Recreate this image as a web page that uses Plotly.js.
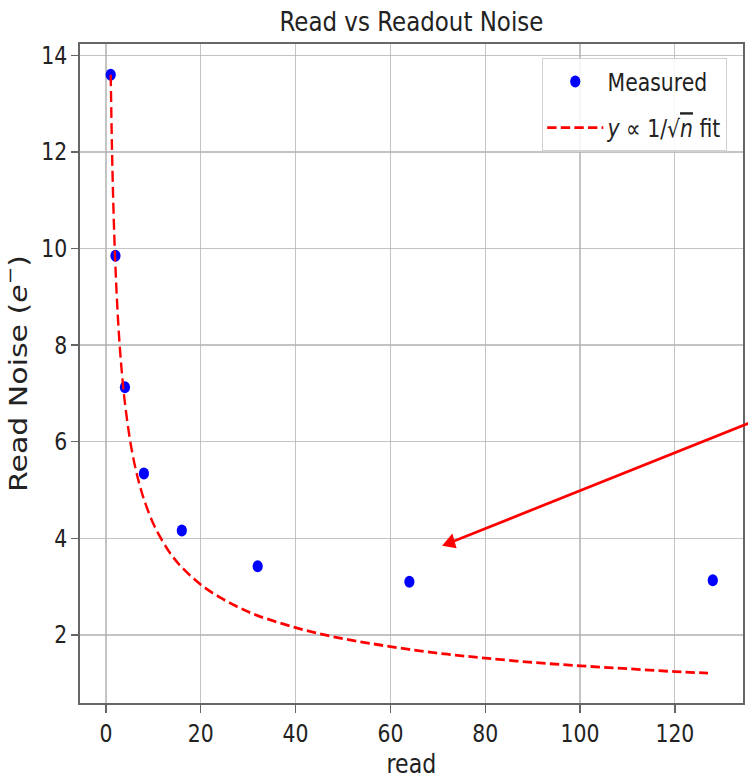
<!DOCTYPE html>
<html>
<head>
<meta charset="utf-8">
<script src="https://cdn.plot.ly/plotly-3.0.1.min.js"></script>
<style>
  html, body { margin: 0; padding: 0; background: #ffffff; }
  #wrap { width: 748px; height: 779px; overflow: hidden; position: relative; }
  #chart { width: 880px; height: 779px; transform: scaleX(0.85); transform-origin: 0 0; }
</style>
</head>
<body>
<div id="wrap"><div id="chart"></div></div>
<script>
// Measured read noise for each number of reads
const readCounts = [1, 2, 4, 8, 16, 32, 64, 128];
const readNoise  = [13.6, 9.85, 7.13, 5.34, 4.16, 3.42, 3.10, 3.13];

// Fit curve, values
const fitReads = [1, 1.25, 1.5, 1.75, 2, 2.5, 3, 3.5, 4, 5, 6, 7, 8, 10, 12, 14, 16, 20, 24, 28, 32, 40, 48, 56, 64, 72, 80, 90, 100, 110, 120, 127];
const fitNoise = [13.6, 12.16, 11.1, 10.28, 9.62, 8.6, 7.85, 7.27, 6.8, 6.08, 5.55, 5.14, 4.81, 4.3, 3.93, 3.63, 3.4, 3.04, 2.78, 2.57, 2.4, 2.15, 1.96, 1.82, 1.7, 1.6, 1.52, 1.43, 1.36, 1.3, 1.24, 1.21];

// Arrow annotation (tip and tail, data units)
const arrowTip  = [70.9, 3.845];
const arrowTail = [138, 6.48];

// Tick labels
const xTicks = [0, 20, 40, 60, 80, 100, 120];
const yTicks = [2, 4, 6, 8, 10, 12, 14];

const FONT = 'DejaVu Sans, sans-serif';
const TXT = '#222222';

const traces = [
  {
    x: readCounts, y: readNoise,
    type: 'scatter', mode: 'markers',
    name: 'Measured', legendgroup: 'a',
    marker: { color: '#0000ff', size: 12, line: { width: 0 } }
  },
  {
    x: fitReads, y: fitNoise,
    type: 'scatter', mode: 'lines',
    name: '<i>y</i> ∝ 1/√<span style="text-decoration:overline"><i>n</i></span> fit', legendgroup: 'b',
    line: { color: '#ff0000', width: 2.8, dash: '11px,5px', shape: 'spline' }
  }
];

const axisCommon = {
  showline: true, mirror: true, linecolor: '#666666', linewidth: 2,
  ticks: 'outside', ticklen: 8, tickwidth: 1.5, tickcolor: '#666666',
  showgrid: true, gridcolor: 'rgba(176,176,176,0.75)', gridwidth: 1.4,
  zeroline: false, automargin: false,
  tickfont: { family: FONT, size: 24, color: TXT }
};

const layout = {
  width: 880, height: 779,
  margin: { l: 94, r: 6, t: 44, b: 76 },
  paper_bgcolor: '#ffffff', plot_bgcolor: '#ffffff',
  font: { family: FONT, color: TXT },
  title: {
    text: 'Read vs Readout Noise',
    font: { family: FONT, size: 27, color: TXT },
    x: 0.5, xref: 'paper', y: 0.972, yref: 'container', yanchor: 'middle'
  },
  xaxis: Object.assign({}, axisCommon, {
    range: [-5.5, 134.35],
    tickvals: xTicks, ticktext: xTicks.map(String),
    title: { text: 'read', font: { family: FONT, size: 26, color: TXT }, standoff: 8 }
  }),
  yaxis: Object.assign({}, axisCommon, {
    range: [0.59, 14.236],
    tickvals: yTicks, ticktext: yTicks.map(String),
    title: { text: 'Read Noise (<i>e</i><sup>−</sup>)', font: { family: FONT, size: 30, color: TXT }, standoff: 12 }
  }),
  showlegend: true,
  legend: {
    x: 0.976, xanchor: 'right', y: 0.979, yanchor: 'top',
    bgcolor: 'rgba(255,255,255,0.85)', bordercolor: '#d0d0d0', borderwidth: 1.5,
    font: { family: FONT, size: 24, color: TXT },
    traceorder: 'grouped', tracegroupgap: 12, itemwidth: 66
  },
  annotations: [{
    x: arrowTip[0], y: arrowTip[1], xref: 'x', yref: 'y',
    ax: arrowTail[0], ay: arrowTail[1], axref: 'x', ayref: 'y',
    text: '', showarrow: true, arrowhead: 2, arrowsize: 1.1, arrowwidth: 2.8,
    arrowcolor: '#ff0000', standoff: 0, startstandoff: 0
  }]
};

Plotly.newPlot('chart', traces, layout, { displayModeBar: false, staticPlot: true });
</script>
</body>
</html>
